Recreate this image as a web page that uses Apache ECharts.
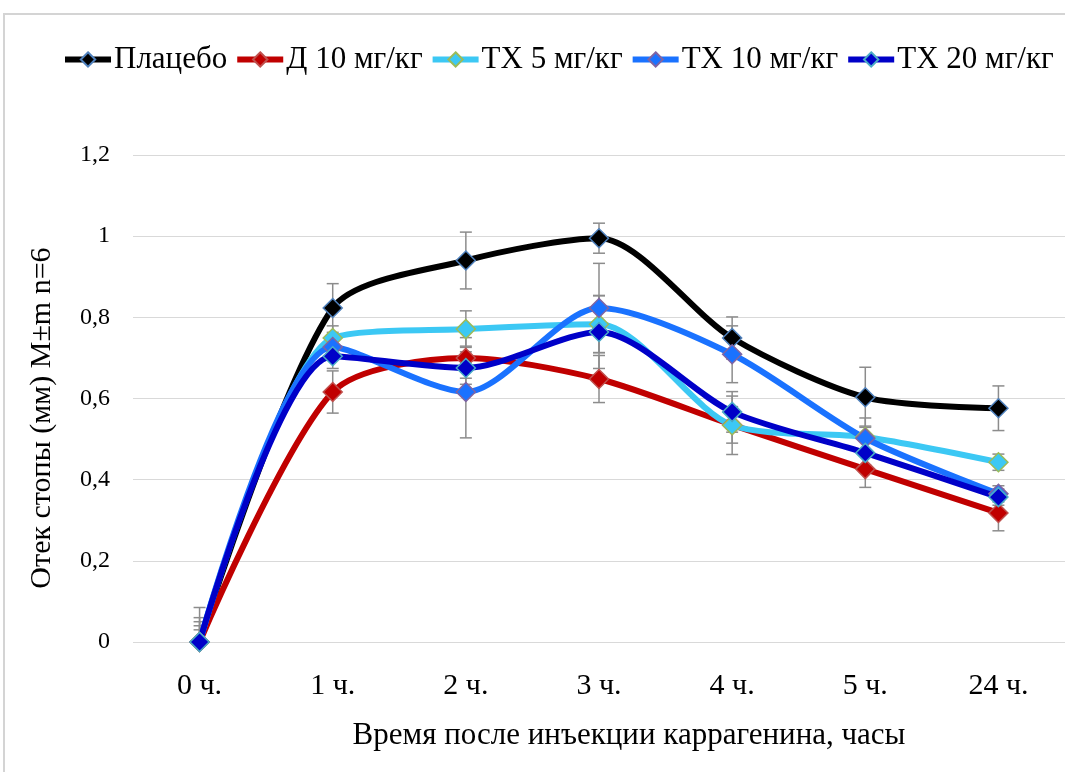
<!DOCTYPE html>
<html>
<head>
<meta charset="UTF-8"/>
<title></title>
<script src="https://cdn.jsdelivr.net/npm/echarts@6/dist/echarts.min.js"></script>
<style>
  html, body { margin: 0; padding: 0; background: #fff; }
  #main { width: 1065px; height: 772px; }
</style>
</head>
<body>
<div id="main"></div>
<script type="text/javascript">
var categories = ['0 ч.', '1 ч.', '2 ч.', '3 ч.', '4 ч.', '5 ч.', '24 ч.'];

var placebo = [0, 0.823, 0.94, 0.995, 0.749, 0.603, 0.576];
var d10 = [0, 0.616, 0.70, 0.648, 0.535, 0.426, 0.318];
var tx5 = [0, 0.749, 0.771, 0.783, 0.534, 0.505, 0.443];
var tx10 = [0, 0.727, 0.616, 0.823, 0.709, 0.502, 0.365];
var tx20 = [0, 0.704, 0.675, 0.764, 0.567, 0.466, 0.357];

// m (ошибка среднего)
var placeboErr = [0.085, 0.06, 0.07, 0.037, 0.052, 0.074, 0.055];
var d10Err = [0.06, 0.052, 0.05, 0.058, 0.045, 0.045, 0.044];
var tx5Err = [0.05, 0.03, 0.045, 0.07, 0.072, 0.047, 0.02];
var tx10Err = [0.04, 0.03, 0.113, 0.11, 0.07, 0.03, 0.02];
var tx20Err = [0.03, 0.03, 0.04, 0.09, 0.05, 0.03, 0.02];

var yTicks = ['0', '0,2', '0,4', '0,6', '0,8', '1', '1,2'];

var font = '"Liberation Serif", "Times New Roman", serif';

var dom = document.getElementById('main');
var myChart = echarts.init(dom);

var lineSeries = function (name, data, color, border) {
    return {
        name: name,
        type: 'line',
        data: data,
        smooth: 0.27,
        symbol: 'diamond',
        symbolSize: 19,
        lineStyle: { color: color, width: 6 },
        itemStyle: { color: color, borderColor: border, borderWidth: 1.5 },
        z: 3
    };
};

var errSeries = function (name, data, err) {
    var rows = [];
    for (var i = 0; i < data.length; i++) {
        rows.push([i, Math.max(0, data[i] - err[i]), data[i] + err[i]]);
    }
    return {
        name: name + ' err',
        type: 'custom',
        data: rows,
        z: 1,
        silent: true,
        renderItem: function (params, api) {
            var lo = api.coord([api.value(0), api.value(1)]);
            var hi = api.coord([api.value(0), api.value(2)]);
            var w = 6;
            var st = { stroke: '#8c8c8c', lineWidth: 1.5 };
            return {
                type: 'group',
                children: [
                    { type: 'line', shape: { x1: lo[0], y1: lo[1], x2: hi[0], y2: hi[1] }, style: st },
                    { type: 'line', shape: { x1: hi[0] - w, y1: hi[1], x2: hi[0] + w, y2: hi[1] }, style: st },
                    { type: 'line', shape: { x1: lo[0] - w, y1: lo[1], x2: lo[0] + w, y2: lo[1] }, style: st }
                ]
            };
        }
    };
};

var option = {
    backgroundColor: '#fff',
    animation: false,
    graphic: [{
        type: 'rect',
        shape: { x: 4, y: 14, width: 1080, height: 780 },
        style: { fill: 'none', stroke: '#d4d4d4', lineWidth: 2 },
        z: -1
    }, {
        // подпись оси Y
        type: 'text',
        x: 42,
        y: 418,
        rotation: Math.PI / 2,
        style: {
            text: 'Отек стопы (мм) M±m n=6',
            font: '30px ' + font,
            fill: '#000',
            align: 'center',
            verticalAlign: 'middle'
        }
    }],
    legend: {
        data: ['Плацебо', 'Д 10 мг/кг', 'TX 5 мг/кг', 'TX 10 мг/кг', 'TX 20 мг/кг'],
        left: 62,
        top: 44,
        width: 1003,
        padding: 0,
        itemWidth: 46,
        itemHeight: 18,
        itemGap: 7,
        lineStyle: { width: 6 },
        textStyle: { fontFamily: font, fontSize: 31, color: '#000', padding: [0, 0, 0, -2] }
    },
    grid: {
        left: 133,
        right: 0,
        top: 155,
        bottom: 130
    },
    xAxis: {
        type: 'category',
        data: categories,
        boundaryGap: true,
        axisLine: { show: false },
        axisTick: { show: false },
        axisLabel: { fontFamily: font, fontSize: 30, color: '#000', margin: 29 },
        name: 'Время после инъекции каррагенина, часы',
        nameLocation: 'middle',
        nameGap: 78,
        nameTextStyle: { fontFamily: font, fontSize: 31, color: '#000', padding: [0, 0, 0, 60] }
    },
    yAxis: {
        type: 'value',
        min: 0,
        max: 1.2,
        interval: 0.2,
        axisLine: { show: false },
        axisTick: { show: false },
        splitLine: { lineStyle: { color: '#d9d9d9', width: 1 } },
        axisLabel: {
            fontFamily: font, fontSize: 24, color: '#000', margin: 23,
            formatter: function (v) { return yTicks[Math.round(v / 0.2)]; }
        }
    },
    series: [
        errSeries('Плацебо', placebo, placeboErr),
        errSeries('Д 10 мг/кг', d10, d10Err),
        errSeries('TX 5 мг/кг', tx5, tx5Err),
        errSeries('TX 10 мг/кг', tx10, tx10Err),
        errSeries('TX 20 мг/кг', tx20, tx20Err),
        lineSeries('Плацебо', placebo, '#000000', '#4f81bd'),
        lineSeries('Д 10 мг/кг', d10, '#c00000', '#c0504d'),
        lineSeries('TX 5 мг/кг', tx5, '#3cc8f4', '#9bbb59'),
        lineSeries('TX 10 мг/кг', tx10, '#1a72ff', '#8064a2'),
        lineSeries('TX 20 мг/кг', tx20, '#0000c8', '#4bacc6')
    ]
};

myChart.setOption(option, true);
</script>
</body>
</html>
